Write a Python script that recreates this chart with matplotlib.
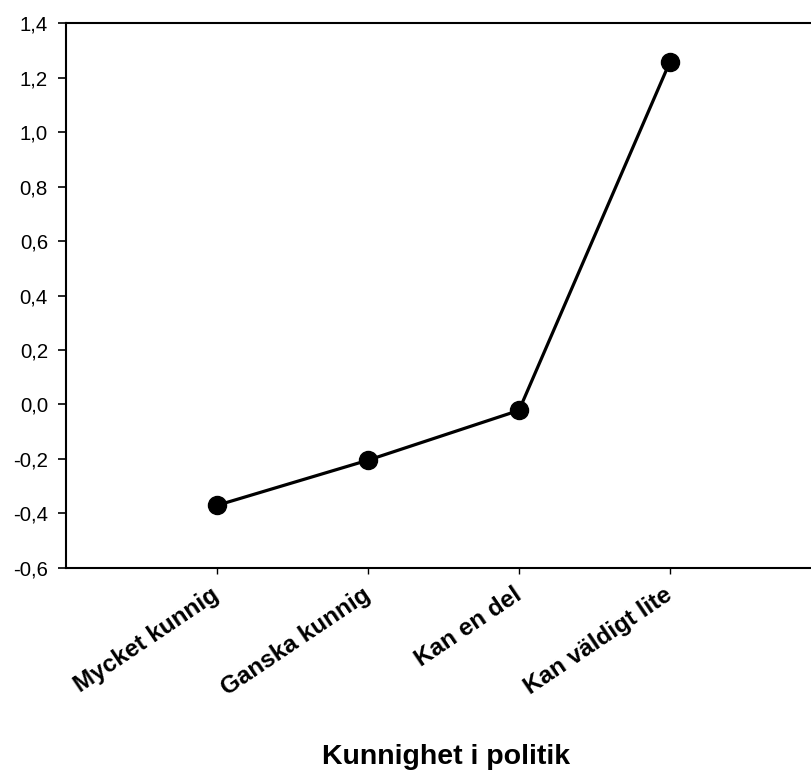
import matplotlib
matplotlib.use("Agg")
import matplotlib.pyplot as plt
from matplotlib.ticker import FuncFormatter

categories = ["Mycket kunnig", "Ganska kunnig", "Kan en del", "Kan väldigt lite"]
values = [-0.371, -0.205, -0.022, 1.259]
yticks = [-0.6, -0.4, -0.2, 0.0, 0.2, 0.4, 0.6, 0.8, 1.0, 1.2, 1.4]
xlabel = "Kunnighet i politik"

plt.rcParams['font.family'] = ['Liberation Sans', 'DejaVu Sans']

fig = plt.figure(figsize=(8.11, 7.73), dpi=100)
ax = fig.add_axes([66/811, 1-567.7/773, 1-66/811, (567.7-23.3)/773])

xs = list(range(1, len(categories)+1))
ax.plot(xs, values, color='black', lw=2.3, marker='o', markersize=13, zorder=3, clip_on=False)

ax.set_xlim(0, 745/151)
ax.set_ylim(-0.6, 1.4)
ax.set_yticks(yticks)
ax.yaxis.set_major_formatter(FuncFormatter(lambda v, p: f"{v:.1f}".replace('.', ',').replace('-0,0', '0,0')))
ax.set_xticks(xs)
ax.set_xticklabels(categories, rotation=34, ha='right', va='center', rotation_mode='anchor',
                   fontsize=17.5, fontweight='bold')
ax.tick_params(axis='y', direction='out', length=5.5, width=1.2, labelsize=14.7, pad=7.5)
ax.tick_params(axis='x', direction='out', length=4, width=1, pad=14)
ax.spines['right'].set_visible(False)
for s in ['left', 'bottom', 'top']:
    ax.spines[s].set_linewidth(1.5)

fig.text(446/811, 1-764/773, xlabel, ha='center', va='baseline', fontsize=20.5, fontweight='bold')

fig.savefig("out.png", dpi=100)
